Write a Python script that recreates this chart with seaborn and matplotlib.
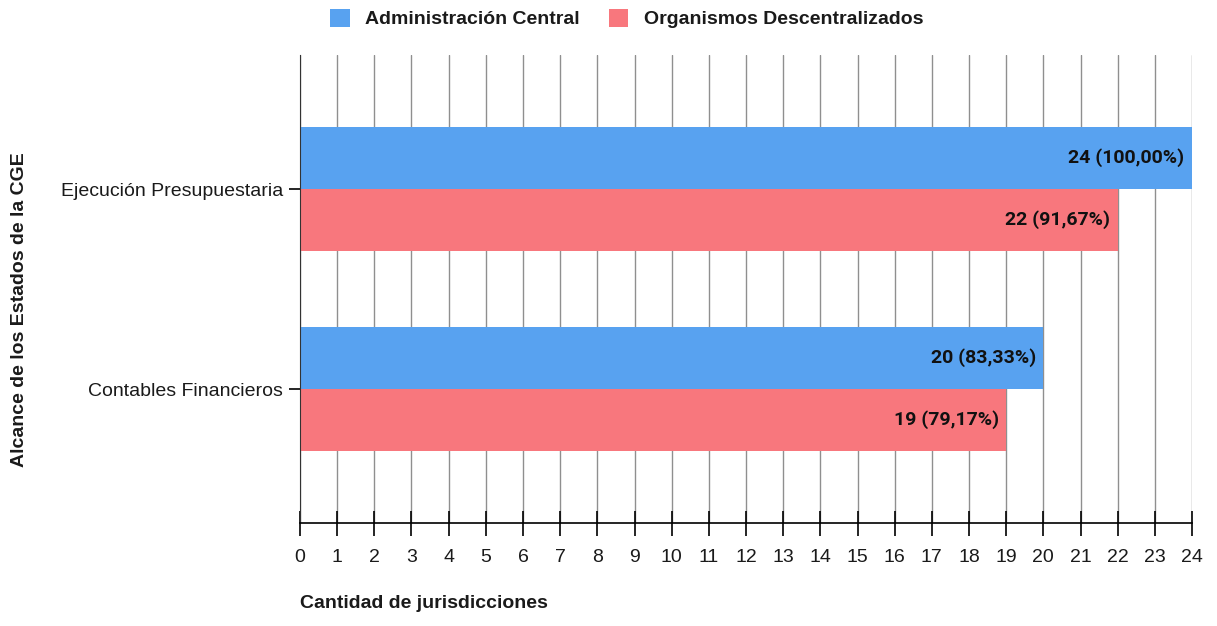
import pandas as pd
import matplotlib.pyplot as plt
import seaborn as sns
from matplotlib.patches import Patch

# data
categorias = ["Ejecución Presupuestaria", "Contables Financieros"]
series = ["Administración Central", "Organismos Descentralizados"]
admin_central = [24, 20]
org_descentralizados = [22, 19]
etiquetas_admin = ["24 (100,00%)", "20 (83,33%)"]
etiquetas_org = ["22 (91,67%)", "19 (79,17%)"]
x_ticks = list(range(0, 25))

colores = ["#58a2f0", "#f8777d"]

df = pd.DataFrame({
    "categoria": categorias * 2,
    "serie": [series[0]] * 2 + [series[1]] * 2,
    "valor": admin_central + org_descentralizados,
})

sns.set_style("white")
plt.rcParams["font.family"] = ["Liberation Sans", "DejaVu Sans"]
plt.rcParams["text.color"] = "#1a1a1a"
plt.rcParams["xtick.color"] = "#1a1a1a"
plt.rcParams["ytick.color"] = "#1a1a1a"

FS = 14

fig = plt.figure(figsize=(12.17, 6.26), dpi=100)
ax = fig.add_axes([0.2465, 0.1645, 0.733, 0.7475])

sns.barplot(data=df, y="categoria", x="valor", hue="serie", order=categorias,
            hue_order=series, palette=colores, orient="h", width=0.62,
            saturation=1, ax=ax, legend=False, linewidth=0, edgecolor="none")

ax.set_xlim(0, 24)
ax.set_ylim(1.67, -0.67)
ax.set_xticks(x_ticks)
ax.set_xticklabels([str(t) for t in x_ticks], fontsize=FS)
ax.tick_params(axis="y", labelsize=FS, length=8, width=1.2, color="black", left=True, pad=4)
ax.tick_params(axis="x", direction="inout", length=18, width=1.2, color="black", bottom=True, pad=10)
ax.grid(axis="x", color="#8f8f8f", linewidth=1)
ax.set_axisbelow(True)

for s in ["top", "right"]:
    ax.spines[s].set_visible(False)
ax.spines["left"].set_color("#333333")
ax.spines["bottom"].set_color("black")
ax.spines["bottom"].set_linewidth(1.2)

# value labels at the inner end of each bar
for cont, labs in zip(ax.containers, [etiquetas_admin, etiquetas_org]):
    for p, lab in zip(cont.patches, labs):
        ax.text(p.get_width() - 0.2, p.get_y() + p.get_height() / 2, lab,
                ha="right", va="center", fontsize=FS, fontweight="bold",
                family=["Roboto", "DejaVu Sans"], color="#111111")

ax.set_xlabel("")
ax.set_ylabel("")
fig.text(0.2465, 0.022, "Cantidad de jurisdicciones", fontsize=FS,
         fontweight="bold", ha="left", va="bottom")
fig.text(0.016, 0.505, "Alcance de los Estados de la CGE", fontsize=FS,
         fontweight="bold", rotation=90, ha="center", va="center")

handles = [Patch(facecolor=c, edgecolor="none") for c in colores]
fig.legend(handles, series, loc="center", bbox_to_anchor=(0.515, 0.97), ncol=2,
           frameon=False, prop={"weight": "bold", "size": FS},
           handlelength=1.0, handleheight=1.0, columnspacing=1.5, handletextpad=0.8)

fig.savefig("out.png", dpi=100)
